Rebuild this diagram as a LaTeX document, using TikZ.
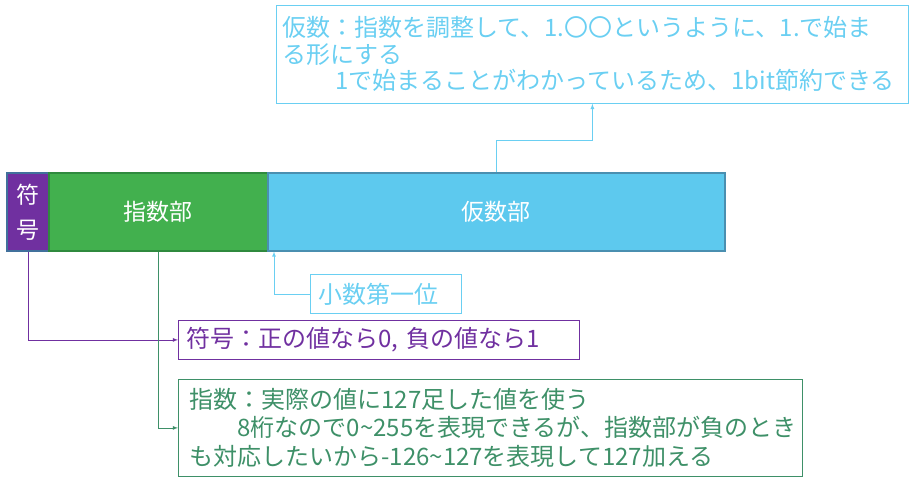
\documentclass[tikz,border=0pt]{standalone}
\usepackage{fontspec}
\setmainfont{Noto Sans CJK JP}
\usepackage{tikz}

\definecolor{signpurple}{HTML}{7030A0}
\definecolor{exgreen}{HTML}{42B04E}
\definecolor{exborder}{HTML}{2F8A3E}
\definecolor{mantblue}{HTML}{5DC9EE}
\definecolor{mantborder}{HTML}{4A8FB0}
\definecolor{signborder}{HTML}{41719C}
\definecolor{mantnote}{HTML}{6ACFF2}
\definecolor{exnote}{HTML}{3E9068}

\begin{document}
\begin{tikzpicture}[x=1pt, y=-1pt,
	field/.style={draw, line width=1.5pt, anchor=north west, inner sep=0pt,
		minimum height=78pt, text=white, font=\fontsize{23}{35}\selectfont, align=center},
	note/.style={draw, line width=0.8pt, anchor=north west, inner xsep=8pt, inner ysep=0pt,
		align=left, font=\fontsize{24}{28.5}\selectfont}]

	\useasboundingbox (0,0) rectangle (909,487);

	% the three fields
	\node[field, fill=signpurple, draw=signborder, minimum width=42pt] (sign) at (6,172) {符\\号};
	\node[field, fill=exgreen, draw=exborder, minimum width=219pt] (expo) at (48,172) {指数部};
	\node[field, fill=mantblue, draw=mantborder, minimum width=457pt] (mant) at (267,172) {仮数部};

	% notes
	\node[note, draw=mantnote, text=mantnote, inner xsep=6pt, text width=620pt, minimum height=98pt,
		font=\fontsize{24}{26.5}\selectfont] (mantnote) at (276,5)
		{仮数：指数を調整して、1.〇〇というように、1.で始ま\\る形にする\\
		\hspace*{2.2em}1で始まることがわかっているため、1bit節約できる};
	\node[note, draw=mantnote, text=mantnote, text width=135pt, minimum height=39pt] (firstbit) at (310,274) {小数第一位};
	\node[note, draw=signpurple, text=signpurple, text width=385pt, minimum height=39pt] (signnote) at (178,320)
		{符号：正の値なら0, 負の値なら1};
	\node[note, draw=exnote, inner xsep=11pt, text=exnote, text width=602pt, minimum height=97pt] (exnote) at (178,379)
		{指数：実際の値に127足した値を使う\\
		\hspace*{2em}8桁なので0\textasciitilde255を表現できるが、指数部が負のとき\\
		も対応したいから-126\textasciitilde127を表現して127加える};

	% connectors
	\draw[->, >=latex, mantnote, line width=0.8pt] (mant.north) -- ++(0,-32) -| (mantnote.south);
	\draw[->, >=latex, mantnote, line width=0.8pt] (firstbit.west) -| ([xshift=7pt]mant.south west);
	\draw[->, >=latex, signpurple, line width=0.8pt] ([xshift=1pt]sign.south) |- (signnote.west);
	\draw[->, >=latex, exnote, line width=0.8pt] (expo.south) |- (exnote.west);

\end{tikzpicture}
\end{document}
